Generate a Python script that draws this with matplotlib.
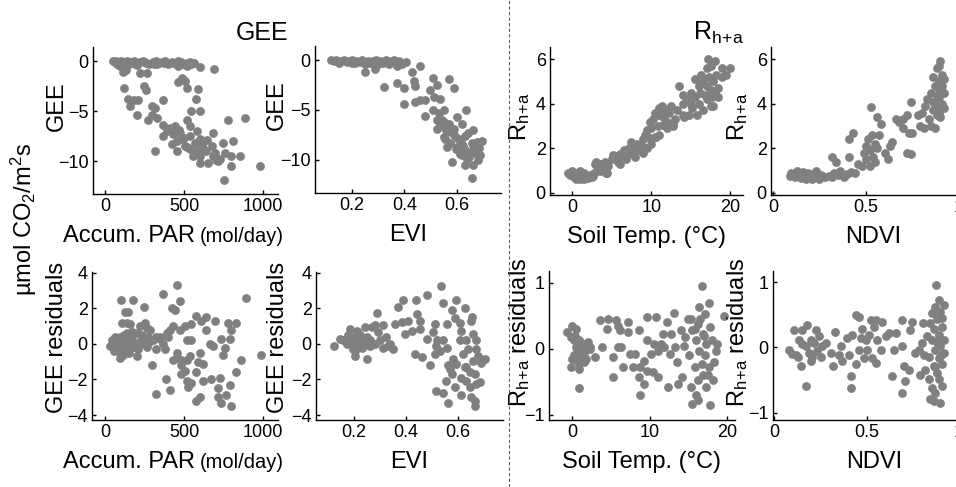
import matplotlib
matplotlib.use('Agg')
import matplotlib.pyplot as plt

plt.rcParams['font.family'] = ['Liberation Sans', 'DejaVu Sans']
plt.rcParams['mathtext.default'] = 'regular'

# ---- data ----
# GEE vs accumulated PAR
par_top_x = [50, 60, 70, 80, 90, 100, 110, 120, 135, 150, 165, 180, 200, 220, 240, 260, 280, 300,
             320, 340, 360, 380, 400, 420, 440, 460, 480, 500, 520, 540, 560, 75, 125, 190, 250, 310,
             370, 430, 490, 550, 95, 130, 110, 200, 330, 460, 600, 690, 545, 520,
             221, 263, 484, 505, 516, 463, 589, 575, 600, 543, 516,
             120, 147, 158, 179, 210, 246, 259, 204, 295, 269, 295, 326, 368, 316,
             368, 389, 410, 442, 368, 474, 421, 316, 453, 484, 505, 537, 537, 568, 600, 621, 642,
             674, 695, 716, 653, 600, 558, 600, 684, 579, 537, 747, 779, 884, 810, 758, 800, 853,
             800, 979, 752, 726, 684, 400, 430, 455, 520, 560, 640, 700, 610, 580, 500, 470]
par_top_y = [0, -0.1, 0, -0.2, -0.1, 0, -0.2, -0.1, 0, -0.3, -0.1, 0, -0.2, -0.1, 0, -0.2, -0.3, -0.1,
             0, -0.2, -0.1, 0, -0.3, -0.1, -0.2, 0, -0.1, -0.3, -0.2, -0.1, -0.2, -0.3, -0.3, -0.3, -0.1, -0.3,
             -0.2, -0.2, -0.3, -0.2, -0.5, -0.9, -1.1, -0.4, -0.3, -0.5, -0.6, -0.8, -0.3, -0.5,
             -1.2, -1.2, -1.7, -2.0, -2.7, -2.1, -2.8, -3.8, -5.0, -5.0, -5.9,
             -2.7, -3.8, -4.5, -3.9, -3.9, -2.5, -2.9, -5.4, -4.5, -5.9, -5.4, -5.7, -3.9, -4.7,
             -6.4, -7.0, -6.7, -6.5, -7.5, -7.2, -8.3, -9.0, -9.0, -7.8, -8.5, -7.5, -8.8, -8.2, -7.8, -8.7, -7.9,
             -8.5, -9.2, -10.0, -10.2, -10.2, -9.5, -9.5, -7.2, -7.0, -6.5, -8.2, -5.9, -5.7, -8.0, -9.2, -9.5, -9.5,
             -10.5, -10.5, -11.9, -9.8, -9.5, -6.8, -7.3, -8.0, -8.6, -9.3, -9.0, -9.9, -8.4, -9.0, -7.7, -6.9]

# GEE vs EVI
evi_top_x = [0.12, 0.13, 0.14, 0.15, 0.16, 0.17, 0.18, 0.19, 0.20, 0.21, 0.22, 0.23, 0.24, 0.25, 0.26,
             0.27, 0.28, 0.29, 0.30, 0.31, 0.32, 0.33, 0.34, 0.35, 0.36, 0.37, 0.38, 0.39, 0.15, 0.2, 0.25,
             0.3, 0.34, 0.37, 0.251, 0.289, 0.323, 0.371, 0.397, 0.399, 0.407, 0.429, 0.435, 0.441, 0.458,
             0.441, 0.458, 0.479, 0.479, 0.498, 0.509, 0.524, 0.514, 0.537, 0.568, 0.587, 0.509, 0.524,
             0.524, 0.537, 0.549, 0.549, 0.562, 0.568, 0.549, 0.562, 0.600, 0.619, 0.635, 0.587, 0.613,
             0.600, 0.632, 0.644, 0.663, 0.657, 0.676, 0.695, 0.686, 0.689, 0.670, 0.651, 0.632, 0.632,
             0.663, 0.581, 0.657, 0.619, 0.638, 0.682, 0.587, 0.53, 0.555, 0.575, 0.595, 0.61, 0.625,
             0.645, 0.66, 0.675, 0.64, 0.62, 0.6, 0.56, 0.545]
evi_top_y = [0, -0.1, 0, -0.2, -0.1, 0, -0.2, -0.1, 0, -0.3, -0.1, -0.2, 0, -0.2, -0.1,
             -0.3, -0.1, 0, -0.2, -0.1, -0.3, 0, -0.2, -0.1, 0, -0.3, -0.1, -0.4, -0.3, -0.3, -0.4,
             -0.4, -0.4, -0.6, -1.2, -0.9, -2.7, -2.3, -2.8, -4.4, -0.2, -1.2, -2.1, -2.6, -0.6,
             -4.2, -4.0, -4.0, -5.6, -3.0, -1.8, -2.5, -3.7, -3.9, -1.9, -2.8, -5.0, -6.0,
             -6.9, -6.5, -5.0, -6.2, -7.2, -6.4, -7.7, -8.7, -5.7, -6.4, -5.0, -7.5, -8.0,
             -8.7, -7.6, -7.3, -7.0, -8.3, -8.2, -8.1, -8.8, -9.5, -9.3, -9.2, -9.0, -10.5,
             -10.5, -10.2, -11.8, -9.5, -9.8, -10.0, -6.9, -5.3, -7.9, -8.3, -8.9, -9.4, -8.6,
             -9.7, -8.5, -9.1, -9.9, -8.4, -7.8, -7.0, -6.0]

# Rh+a vs soil temperature
soil_top_x = [-0.5, -0.3, 0, 0.2, 0.5, 0.8, 1, 1.2, 1.5, 1.8, 2, 2.3, 2.6, 2.8, 3, 3.2, 3.5, 4, 4.3, 4.5,
              5, 5.2, 5.5, 5.8, 6, 6.3, 6.5, 7, 7.2, 7.5, 7.8, 8, 8.2, 8.5, 8.8, 9, 9.2, 9.5, 9.8, 9,
              10, 10, 10.2, 10.5, 10.8, 11, 11, 11.3, 11.5, 11.8, 12, 12, 12.3, 12.5, 13, 13.3, 13.5,
              14, 14, 14.5, 14.8, 15, 15.2, 15.5, 15.5, 15.8, 16, 16, 16.2, 16.5, 16.5, 16.8, 17, 17,
              17, 17.3, 17.5, 17.5, 17.8, 18, 18, 18.2, 18.5, 18.5, 19, 19.5, 20, 17.8, 16.3, 15, 14,
              12.8, 11, 10.5, 9.5, 8, 6.8, 6, 4.2, 3.5, 1, 0.5, 1.5, 2.5, 17.5, 17.7, 16.7, 17.2, 19.0,
              14.2, 12.7, 11.5, 10.6, 9.6, 4.4, 2.9]
soil_top_y = [0.9, 0.8, 1.0, 0.7, 0.9, 0.8, 0.6, 0.75, 0.9, 0.7, 0.65, 0.8, 0.75, 0.9, 1.4, 1.2, 1.3, 1.1, 0.9, 1.2,
              1.5, 1.7, 1.6, 1.4, 1.75, 1.5, 1.9, 1.8, 2.0, 2.3, 1.7, 2.0, 2.2, 1.9, 2.1, 2.4, 2.6, 2.8, 3.2, 1.8,
              2.2, 2.9, 3.3, 2.5, 3.0, 3.5, 3.8, 3.9, 3.4, 3.7, 3.2, 2.9, 3.6, 3.9, 3.3, 3.7, 4.8,
              4.0, 3.5, 4.2, 3.5, 4.5, 3.8, 5.1, 4.3, 3.5, 4.0, 4.8, 4.5, 5.0, 3.7, 4.4, 5.6, 4.2,
              4.8, 5.2, 4.6, 3.9, 5.0, 5.9, 4.5, 5.3, 4.7, 4.3, 5.2, 5.3, 5.6, 3.9, 5.3, 4.0, 4.4,
              3.0, 2.6, 3.6, 2.0, 1.6, 1.5, 1.3, 1.4, 1.0, 1.0, 0.6, 0.6, 0.7, 5.7, 4.3, 5.1, 6.0, 5.6,
              3.4, 3.1, 3.05, 2.5, 2.5, 0.9, 1.3]

# Rh+a vs NDVI
ndvi_top_x = [0.09, 0.10, 0.12, 0.13, 0.14, 0.15, 0.16, 0.17, 0.18, 0.19, 0.20, 0.21, 0.22, 0.23, 0.24,
              0.25, 0.26, 0.28, 0.30, 0.32, 0.33, 0.35, 0.36, 0.38, 0.40, 0.42, 0.44, 0.32, 0.34, 0.43,
              0.41, 0.41, 0.46, 0.48, 0.49, 0.50, 0.50, 0.51, 0.52, 0.52, 0.53, 0.54, 0.55, 0.55, 0.56,
              0.57, 0.525, 0.58, 0.56, 0.60, 0.62, 0.63, 0.64, 0.66, 0.68, 0.70, 0.70, 0.72, 0.73, 0.72,
              0.74, 0.74, 0.75, 0.78, 0.79, 0.80, 0.81, 0.82, 0.83, 0.84, 0.85, 0.85, 0.86, 0.86, 0.87,
              0.87, 0.88, 0.88, 0.89, 0.89, 0.90, 0.90, 0.90, 0.91, 0.91, 0.92, 0.92, 0.87, 0.89, 0.88,
              0.90, 0.86, 0.91, 0.92, 0.88, 0.89]
ndvi_top_y = [0.75, 0.9, 0.7, 1.0, 0.8, 0.65, 0.95, 0.75, 0.6, 0.9, 0.7, 0.6, 0.85, 1.0, 0.7,
              0.6, 0.8, 0.7, 0.75, 0.7, 0.9, 0.8, 1.0, 0.7, 0.85, 0.95, 0.9, 1.6, 1.4, 2.7,
              2.4, 1.6, 1.3, 1.2, 1.8, 2.1, 1.5, 2.4, 1.9, 1.2, 2.6, 1.6, 2.2, 1.4, 2.0,
              2.6, 3.85, 3.1, 3.4, 1.8, 1.5, 2.1, 2.3, 3.3, 3.2, 2.9, 3.3, 3.5, 2.7, 1.8,
              1.75, 4.1, 2.7, 3.5, 3.0, 3.6, 2.9, 3.9, 4.2, 3.3, 3.0, 4.5, 3.7, 5.2, 4.0,
              4.8, 5.6, 3.5, 4.3, 5.0, 5.9, 4.6, 3.4, 5.3, 4.0, 4.5, 3.8, 2.9, 5.7, 4.4,
              5.0, 4.1, 4.8, 5.1, 3.9, 3.6]

# GEE residuals vs accumulated PAR
par_res_x = [53, 101, 175, 126, 147, 248, 368, 453, 474, 427, 442, 895, 989, 863, 827, 800, 768, 726, 716,
             669, 621, 579, 547, 526, 516, 484, 505, 389, 411, 322, 579, 600, 716, 737, 789, 800, 832, 779,
             695, 642, 579, 610, 642, 737, 789, 758, 747, 684, 663, 600, 621, 589, 547, 516, 547, 505, 474,
             432, 411, 400, 368, 347, 326, 305, 326, 379, 453, 453, 484, 516, 537, 484, 432, 295, 200, 210,
             253, 221, 263, 284, 274, 232, 200, 168, 137, 105, 137, 158, 95, 74, 116, 147, 179, 221, 263,
             84, 116, 95, 147, 63, 42, 32, 70, 90, 110, 130, 150, 170, 190, 240, 280, 60, 100, 120, 160,
             230, 350, 390]
par_res_y = [-0.15, 2.5, 2.5, 1.8, 1.8, 2.1, 2.8, 3.3, 2.4, 2.0, 1.9, 2.6, -0.6, -0.9, -1.6, -3.5, -2.9, -1.9, -2.5,
             -2.0, -2.1, -1.6, -2.2, -2.4, -2.1, -1.7, -1.5, -2.0, -2.6, -2.8, -3.2, -3.0, -3.0, -3.3, -2.3, 0.8, 1.2, 1.2,
             1.3, 1.5, 1.6, 1.3, 0.8, 0.3, 0.3, -0.2, -0.6, -0.1, 0.0, -0.5, -1.1, -1.0, 0.2, 0.2, 1.1, 1.0, 0.8,
             1.0, 0.8, 0.4, 0.0, 0.4, 0.4, 0.2, -0.3, -0.3, -0.5, -0.8, -0.9, -0.9, -0.7, -1.2, -0.9, -1.2, -0.7, -0.3,
             1.2, 1.0, 0.9, 0.8, 0.4, 0.5, 0.6, 0.7, 0.6, 1.2, 1.2, 1.1, 0.4, 0.1, 0.0, 0.2, -0.15, 0.0, -0.15,
             -0.4, -0.6, -0.8, -0.3, 0.4, 0.2, -0.1, 0.0, 0.3, -0.2, 0.1, -0.5, 0.3, 0.0, 0.3, 0.1, -0.4, 0.2, 0.5, -0.1,
             0.2, 0.3, 0.6]

# GEE residuals vs EVI
evi_res_x = [0.123, 0.146, 0.159, 0.172, 0.178, 0.185, 0.191, 0.204, 0.204, 0.21, 0.223, 0.229, 0.236, 0.242,
             0.249, 0.251, 0.261, 0.268, 0.281, 0.287, 0.293, 0.3, 0.312, 0.325, 0.338, 0.351, 0.357, 0.37,
             0.389, 0.383, 0.396, 0.409, 0.422, 0.434, 0.438, 0.441, 0.453, 0.453, 0.46, 0.479, 0.479, 0.494,
             0.502, 0.511, 0.511, 0.517, 0.52, 0.536, 0.543, 0.543, 0.543, 0.556, 0.556, 0.562, 0.553, 0.568,
             0.575, 0.575, 0.587, 0.581, 0.594, 0.594, 0.587, 0.607, 0.607, 0.613, 0.613, 0.619, 0.626, 0.626,
             0.613, 0.632, 0.632, 0.639, 0.645, 0.645, 0.651, 0.655, 0.658, 0.658, 0.651, 0.664, 0.664, 0.67,
             0.67, 0.677, 0.683, 0.689, 0.702, 0.67, 0.664, 0.632, 0.562, 0.53, 0.517, 0.19, 0.2, 0.215,
             0.23, 0.26, 0.28, 0.31, 0.33, 0.215, 0.245, 0.195, 0.17]
evi_res_y = [-0.1, 0.3, 0.2, 0.0, 0.5, 0.85, 0.2, -0.4, -0.7, 0.75, 0.5, 0.2, -0.1, 0.95,
             0.4, -0.85, 0.2, 0.95, 1.05, 1.75, 0.65, 0.2, 1.05, 0.4, 0.0, -0.3, 1.15, 2.1,
             2.45, 1.25, 0.55, 1.3, 0.75, -0.55, 2.45, 1.7, 1.3, 0.85, -0.75, 2.75, 0.3, -1.2,
             0.65, 1.1, -0.55, -2.65, 0.2, 3.25, 2.3, 0.2, -2.75, 1.15, -0.2, -3.3, -2.1, -1.4,
             1.9, -1.7, 1.45, -0.85, 2.5, -1.15, -2.45, 1.2, 0.2, -1.9, 0.75, -0.55, 2.0, -1.3,
             -2.9, -2.1, 0.2, -0.3, -2.45, -1.6, 1.3, 1.5, 0.55, -0.95, -3.0, -3.5, -1.7, 0.2,
             -2.25, -0.65, -2.15, -1.05, -0.85, -0.3, -3.2, -1.3, -1.2, -0.4, -0.1, 0.1, 0.4, 0.0,
             -0.2, -0.1, 0.0, -0.2, -0.1, 0.6, 0.1, -0.3, 0.1]

# Rh+a residuals vs soil temperature
soil_res_x = [-0.7, 0, -0.2, 0.2, 0.45, 0, -0.1, 0.9, 0.9, 0.9, 1.35, 1.35, 1.6, 1.8, 2.0, 2.25, 0.7, 1.1,
              0.45, 2.9, 3.6, 3.8, 4.6, 4.5, 5.2, 5.2, 5.6, 5.9, 5.9, 6.1, 6.3, 6.5, 7.2, 7.2, 7.4, 7.9,
              8.1, 8.6, 8.8, 8.6, 8.8, 9.2, 9.2, 9.7, 9.7, 9.7, 10.1, 10.4, 10.6, 10.8, 11.0, 11.0, 11.5,
              11.7, 11.9, 12.2, 12.4, 12.6, 12.8, 13.1, 13.3, 13.5, 13.7, 14.0, 14.2, 14.4, 14.6, 14.9,
              15.1, 15.3, 15.3, 15.5, 15.5, 15.8, 16.0, 16.0, 16.2, 16.2, 16.4, 16.4, 16.7, 16.8, 16.9,
              16.9, 17.1, 17.1, 17.3, 17.3, 17.6, 17.6, 17.8, 17.8, 18.0, 18.2, 18.5, 18.7, 19.6, 16.2,
              0.3, 0.6, 1.0, 1.5, 0.2, 0.8, 1.2, 2.3, 16.5, 17.0, 15.8, 17.5, 18.3]
soil_res_y = [0.25, 0.35, 0.18, 0.13, 0.03, -0.15, -0.28, -0.3, -0.6, 0.13, 0.08, -0.08, -0.03, -0.15, 0.1, 0.0, -0.08, -0.18,
              0.3, -0.13, 0.43, 0.03, 0.45, 0.3, -0.43, -0.13, 0.43, 0.35, 0.03, 0.28, 0.03, -0.28, 0.25, 0.4, -0.08, -0.28,
              -0.08, 0.28, -0.28, -0.43, -0.7, -0.53, -0.18, 0.48, 0.13, -0.33, -0.08, -0.35, 0.08, 0.48, -0.43, -0.03, 0.08,
              0.23, 0.03, 0.4, -0.58, -0.08, 0.23, 0.55, 0.03, -0.2, -0.53, 0.28, -0.43, 0.05, 0.18, 0.45,
              -0.1, 0.45, -0.58, 0.28, -0.83, -0.28, -0.7, 0.13, 0.38, -0.48, 0.63, -0.03, -0.23, 0.96, 0.23,
              -0.4, 0.53, -0.1, 0.08, -0.58, 0.7, -0.28, -0.86, 0.33, 0.13, -0.48, -0.03, 0.08, 0.5, -0.78,
              0.2, -0.05, 0.1, -0.2, -0.1, -0.2, 0.05, 0.02, 0.45, 0.2, 0.3, -0.4, -0.2]

# Rh+a residuals vs NDVI
ndvi_res_x = [0.08, 0.11, 0.12, 0.135, 0.145, 0.153, 0.171, 0.18, 0.171, 0.189, 0.198, 0.207, 0.216, 0.225,
              0.234, 0.243, 0.252, 0.261, 0.279, 0.306, 0.32, 0.329, 0.351, 0.36, 0.369, 0.396, 0.405,
              0.414, 0.414, 0.423, 0.441, 0.441, 0.459, 0.459, 0.468, 0.477, 0.486, 0.495, 0.504, 0.513,
              0.522, 0.531, 0.54, 0.549, 0.549, 0.558, 0.576, 0.585, 0.603, 0.621, 0.639, 0.648, 0.657,
              0.692, 0.692, 0.701, 0.71, 0.692, 0.728, 0.737, 0.746, 0.764, 0.782, 0.791, 0.8, 0.806,
              0.809, 0.818, 0.827, 0.836, 0.836, 0.845, 0.845, 0.854, 0.854, 0.854, 0.863, 0.863, 0.872,
              0.872, 0.872, 0.878, 0.881, 0.881, 0.89, 0.89, 0.89, 0.89, 0.899, 0.899, 0.899, 0.908,
              0.908, 0.908, 0.917, 0.917, 0.917, 0.863, 0.1, 0.15, 0.2, 0.13, 0.88, 0.9, 0.87, 0.91]
ndvi_res_y = [-0.04, 0.27, -0.11, 0.12, -0.29, 0.27, -0.59, 0.34, 0.02, -0.09, 0.12, -0.14, 0.07, 0.27,
              -0.06, 0.17, -0.14, 0.02, 0.07, -0.09, -0.29, 0.24, -0.11, 0.02, -0.21, 0.14, -0.11,
              -0.44, -0.62, 0.19, -0.26, 0.5, 0.47, -0.04, 0.14, 0.29, -0.16, 0.12, -0.04, 0.19,
              0.42, -0.16, 0.32, 0.42, -0.24, 0.12, -0.04, 0.39, 0.17, 0.22, -0.44, -0.04, 0.22,
              0.42, 0.02, -0.29, -0.52, -0.69, -0.34, 0.27, 0.39, -0.09, -0.04, -0.42, 0.07, 0.37,
              -0.11, -0.34, 0.17, -0.49, -0.14, 0.37, -0.79, 0.52, 0.12, -0.62, 0.29, -0.29, 0.62,
              -0.04, -0.69, 0.95, 0.44, -0.39, 0.72, 0.19, -0.16, -0.49, -0.85, 0.55, 0.02, 0.32,
              -0.26, -0.59, 0.12, -0.09, 0.65, -0.82, -0.1, 0.05, -0.2, -0.15, 0.08, -0.12, -0.3, 0.45]

DOT = '#808080'
W, H = 956, 487

fig = plt.figure(figsize=(W / 100, H / 100), dpi=100)


def add_panel(left, right, top, bottom, x, y, xlim, ylim, xticks, yticks, xticklabels=None):
    ax = fig.add_axes([left / W, 1 - bottom / H, (right - left) / W, (bottom - top) / H])
    ax.scatter(x, y, s=40, color=DOT, linewidths=0, zorder=3)
    ax.set_xlim(*xlim)
    ax.set_ylim(*ylim)
    ax.set_xticks(xticks)
    if xticklabels is not None:
        ax.set_xticklabels(xticklabels)
    ax.set_yticks(yticks)
    ax.spines['top'].set_visible(False)
    ax.spines['right'].set_visible(False)
    ax.spines['left'].set_linewidth(1.0)
    ax.spines['bottom'].set_linewidth(1.0)
    ax.tick_params(direction='in', length=3, width=1, labelsize=13, pad=3)
    ax.set_facecolor('none')
    return ax


# top row
ax1 = add_panel(93, 278, 47, 194, par_top_x, par_top_y, (-78, 1095), (-13.3, 1.4), [0, 500, 1000], [-10, -5, 0])
ax2 = add_panel(315, 501, 46, 193, evi_top_x, evi_top_y, (0.059, 0.768), (-13.3, 1.4), [0.2, 0.4, 0.6], [-10, -5, 0])
ax3 = add_panel(550, 743, 47, 195, soil_top_x, soil_top_y, (-2.8, 21.6), (-0.1, 6.55), [0, 10, 20], [0, 2, 4, 6])
ax4 = add_panel(771, 975, 47, 195, ndvi_top_x, ndvi_top_y, (-0.01, 1.086), (-0.1, 6.55), [0, 0.5, 1], [0, 2, 4, 6],
                ['0', '0.5', '1'])
# bottom row
ax5 = add_panel(92, 278, 272, 420, par_res_x, par_res_y, (-82, 1095), (-4.28, 4.05), [0, 500, 1000], [-4, -2, 0, 2, 4])
ax6 = add_panel(316, 503, 272, 420, evi_res_x, evi_res_y, (0.054, 0.773), (-4.28, 4.05), [0.2, 0.4, 0.6], [-4, -2, 0, 2, 4])
ax7 = add_panel(549, 735, 271, 420, soil_res_x, soil_res_y, (-3.0, 21.0), (-1.08, 1.18), [0, 10, 20], [-1, 0, 1])
ax8 = add_panel(773, 975, 271, 420, ndvi_res_x, ndvi_res_y, (-0.005, 1.086), (-1.11, 1.17), [0, 0.5, 1], [-1, 0, 1],
                ['0', '0.5', '1'])

LBL = 17
rh = 'R$_{h\\!+\\!a}$'

# y labels
for ax, txt, xc, yc in [(ax1, 'GEE', -0.135, 0.6), (ax2, 'GEE', -0.145, 0.6),
                        (ax3, rh, -0.093, 0.53), (ax4, rh, -0.103, 0.53),
                        (ax5, 'GEE residuals', -0.13, 0.56), (ax6, 'GEE residuals', -0.145, 0.56),
                        (ax7, rh + ' residuals', -0.092, 0.59), (ax8, rh + ' residuals', -0.116, 0.59)]:
    ax.set_ylabel(txt, fontsize=LBL)
    ax.yaxis.set_label_coords(xc, yc)

# x labels: baseline about 48 px under the x axis in every panel
for ax in [ax1, ax5]:
    yb = -48 / 148
    ax.text(0.553, yb, 'Accum. PAR', transform=ax.transAxes, ha='right', va='baseline', fontsize=LBL)
    ax.text(0.578, yb, '(mol/day)', transform=ax.transAxes, ha='left', va='baseline', fontsize=14.5)
for ax, txt in [(ax2, 'EVI'), (ax6, 'EVI'), (ax3, 'Soil Temp. (°C)'), (ax7, 'Soil Temp. (°C)'),
                (ax4, 'NDVI'), (ax8, 'NDVI')]:
    ax.text(0.5, -48 / 148, txt, transform=ax.transAxes, ha='center', va='baseline', fontsize=LBL)

# group titles, common unit label, divider
fig.text(262 / W, 1 - 40 / H, 'GEE', ha='center', va='baseline', fontsize=18)
fig.text(693 / W, 1 - 40 / H, 'R$_{h\\!+\\!a}$', ha='left', va='baseline', fontsize=18)
fig.text(24 / W, 1 - 220 / H, 'µmol CO$_2$/m$^2$s', rotation=90, ha='center', va='center', fontsize=LBL)
fig.add_artist(plt.Line2D([509 / W, 509 / W], [0, 1], color='#606060', linestyle=(0, (3, 2)), linewidth=0.8))

fig.savefig('out.png', dpi=100)
